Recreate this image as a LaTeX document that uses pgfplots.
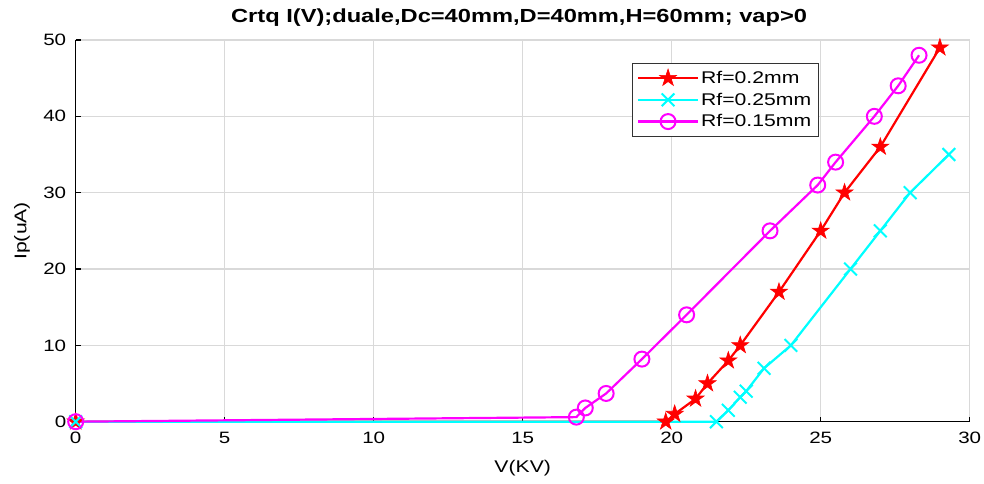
\documentclass[border=0pt]{standalone}
\usepackage{pgfplots}
\pgfplotsset{compat=1.18}
\usepackage{fontspec}
\setmainfont{Liberation Sans}[FakeStretch=1.25]
\pgfdeclareplotmark{pentagram}{%
  \pgfpathmoveto{\pgfpointpolar{90}{\pgfplotmarksize}}%
  \pgfpathlineto{\pgfpointpolar{126}{0.382\pgfplotmarksize}}%
  \pgfpathlineto{\pgfpointpolar{162}{\pgfplotmarksize}}%
  \pgfpathlineto{\pgfpointpolar{198}{0.382\pgfplotmarksize}}%
  \pgfpathlineto{\pgfpointpolar{234}{\pgfplotmarksize}}%
  \pgfpathlineto{\pgfpointpolar{270}{0.382\pgfplotmarksize}}%
  \pgfpathlineto{\pgfpointpolar{306}{\pgfplotmarksize}}%
  \pgfpathlineto{\pgfpointpolar{342}{0.382\pgfplotmarksize}}%
  \pgfpathlineto{\pgfpointpolar{18}{\pgfplotmarksize}}%
  \pgfpathlineto{\pgfpointpolar{54}{0.382\pgfplotmarksize}}%
  \pgfpathclose
  \pgfusepathqfillstroke
}
\definecolor{mred}{rgb}{1,0,0}
\definecolor{mcyan}{rgb}{0,1,1}
\definecolor{mmag}{rgb}{1,0,1}
\begin{document}
\begin{tikzpicture}
\path[use as bounding box] (0bp,0bp) rectangle (984bp,484bp);
\begin{axis}[
  at={(75.7bp,62.3bp)}, anchor=south west,
  scale only axis, width=894bp, height=381.7bp,
  xmin=0, xmax=30, ymin=0, ymax=50,
  xtick={0,5,...,30}, ytick={0,10,...,50},
  grid=major, major grid style={color=black!15, line width=1.2bp},
  axis x line*=bottom, axis y line*=left,
  axis line style={-, line width=1.5bp, black},
  tick style={black, line width=1.2bp},
  tick align=inside, major tick length=5bp,
  ticklabel style={font=\fontsize{16.5}{19}\selectfont},
  xticklabel style={yshift=-7bp},
  yticklabel style={xshift=-6bp},
  /pgf/number format/assume math mode=true,
  xlabel={V(KV)}, ylabel={Ip(uA)},
  every axis x label/.style={at={(axis description cs:0.5,-0.122)}, anchor=center, font=\fontsize{17}{20}\selectfont},
  every axis y label/.style={at={(axis description cs:-0.06,0.5)}, rotate=90, anchor=center, font=\fontsize{17}{20}\selectfont},
  title={Crtq I(V);duale,Dc=40mm,D=40mm,H=60mm; vap>0},
  title style={font=\bfseries\fontsize{19}{22}\selectfont, at={(axis description cs:0.496,1.043)}, anchor=center},
  clip=false,
  legend style={at={(axis description cs:0.622,0.94)}, anchor=north west,
    draw=black!80, font=\fontsize{17}{20}\selectfont,
    inner xsep=5bp, inner ysep=6bp, row sep=4bp, legend cell align=left,
    /tikz/every even column/.append style={column sep=2bp}},
  legend image code/.code={\draw[mark repeat=2,mark phase=2, line width=2.2bp] plot coordinates {(0bp,0bp) (30bp,0bp) (60bp,0bp)};},
]
\addplot[mred, line width=2.2bp, mark=pentagram, mark size=9bp, mark options={fill=mred, draw=mred, line width=0.6bp}] coordinates {
(0,0) (19.8,0) (20.1,1) (20.8,3) (21.2,5) (21.9,8) (22.3,10) (23.6,17) (25,25) (25.8,30) (27,36) (29,49)};
\addlegendentry{Rf=0.2mm}
\addplot[mcyan, line width=2.2bp, mark=x, mark size=9bp, mark options={line width=2bp}] coordinates {
(0,0) (21.5,0) (21.9,1.5) (22.3,3.2) (22.5,4) (23.1,7) (24,10) (26,20) (27,25) (28,30) (29.3,35)};
\addlegendentry{Rf=0.25mm}
\addplot[mmag, line width=2.2bp, mark=o, mark size=7.5bp, mark options={line width=2bp}] coordinates {
(0,0) (16.8,0.6) (17.1,1.8) (17.8,3.7) (19,8.2) (20.5,14) (23.3,25) (24.9,31) (25.5,34) (26.8,40) (27.6,44) (28.3,48)};
\addlegendentry{Rf=0.15mm}
\end{axis}
\end{tikzpicture}
\end{document}
